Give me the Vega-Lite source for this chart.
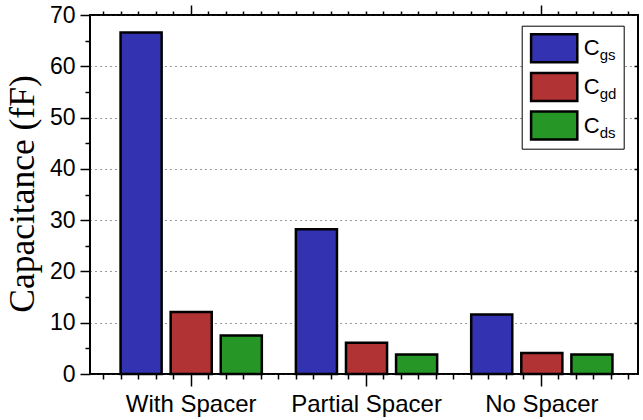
{
  "$schema": "https://vega.github.io/schema/vega-lite/v6.json",
  "width": 548,
  "height": 359,
  "autosize": {"type": "none"},
  "padding": {"left": 90, "top": 15, "right": 5, "bottom": 46},
  "background": "white",
  "config": {
    "view": {"stroke": "black", "strokeWidth": 2},
    "font": "Liberation Sans",
    "axis": {"tickColor": "black", "tickWidth": 1.5, "domain": false, "labelColor": "black", "grid": false}
  },
  "data": {
    "values": [
      {"group": "With Spacer", "series": "Cgs", "sub": "gs", "value": 66.6},
      {"group": "With Spacer", "series": "Cgd", "sub": "gd", "value": 12.1},
      {"group": "With Spacer", "series": "Cds", "sub": "ds", "value": 7.5},
      {"group": "Partial Spacer", "series": "Cgs", "sub": "gs", "value": 28.2},
      {"group": "Partial Spacer", "series": "Cgd", "sub": "gd", "value": 6.1},
      {"group": "Partial Spacer", "series": "Cds", "sub": "ds", "value": 3.8},
      {"group": "No Spacer", "series": "Cgs", "sub": "gs", "value": 11.6},
      {"group": "No Spacer", "series": "Cgd", "sub": "gd", "value": 4.1},
      {"group": "No Spacer", "series": "Cds", "sub": "ds", "value": 3.8}
    ]
  },
  "layer": [
    {
      "mark": {"type": "bar", "stroke": "black", "strokeWidth": 2.5},
      "encoding": {
        "x": {
          "field": "group", "type": "nominal",
          "sort": ["With Spacer", "Partial Spacer", "No Spacer"],
          "scale": {"paddingInner": 0, "paddingOuter": 0.0629, "align": 0.614},
          "axis": {"orient": "bottom", "title": null, "labelAngle": 0, "labelFontSize": 24, "labelPadding": 6, "tickSize": 12, "tickWidth": 1.5, "labelColor": "black", "grid": false, "domain": false}
        },
        "xOffset": {
          "field": "series", "type": "nominal",
          "sort": ["Cgs", "Cgd", "Cds"],
          "scale": {"paddingInner": 0.18, "paddingOuter": 0.34}
        },
        "y": {
          "field": "value", "type": "quantitative",
          "scale": {"domain": [0, 70], "nice": false},
          "axis": {
            "orient": "left", "values": [0, 10, 20, 30, 40, 50, 60, 70], "tickSize": 10, "labelFontSize": 23, "labelPadding": 5,
            "grid": true, "gridDash": [1, 4], "gridColor": "#333", "gridWidth": 1, "domain": false,
            "title": "Capacitance (fF)", "titleFont": "Liberation Serif", "titleFontSize": 35.5, "titleFontWeight": "normal",
            "titleX": -57, "titleY": 178.5, "titleAngle": 270, "titleAlign": "center", "titleBaseline": "alphabetic", "titleColor": "black"
          }
        },
        "fill": {
          "field": "series", "type": "nominal",
          "scale": {"domain": ["Cgs", "Cgd", "Cds"], "range": ["#3333b2", "#b23333", "#269626"]},
          "legend": {
            "orient": "none", "legendX": 431.7, "legendY": 10.7, "title": null, "zindex": 2,
            "symbolType": "M-1.65,-1H1.65V1H-1.65Z", "symbolSize": 784, "symbolOffset": 10,
            "symbolStrokeColor": "black", "symbolStrokeWidth": 2.5, "symbolOpacity": 1,
            "labelExpr": "'C'", "labelFontSize": 22, "labelColor": "black", "labelOffset": 14,
            "padding": 7, "rowPadding": -0.3
          }
        }
      }
    },
    {
      "mark": {"type": "point", "opacity": 0},
      "encoding": {
        "x": {
          "field": "value", "type": "quantitative",
          "scale": {"domain": [0.4229, 3.5543], "nice": false, "zero": false},
          "axis": {"orient": "bottom", "values": [0.5, 0.6, 0.7, 0.8, 0.9, 1.1, 1.2, 1.3, 1.4, 1.5, 1.6, 1.7, 1.8, 1.9, 2.1, 2.2, 2.3, 2.4, 2.5, 2.6, 2.7, 2.8, 2.9, 3.1, 3.2, 3.3, 3.4, 3.5], "tickSize": 5, "labels": false, "domain": false, "grid": false, "title": null}
        },
        "y": {
          "field": "value", "type": "quantitative",
          "axis": {"orient": "left", "values": [5, 15, 25, 35, 45, 55, 65], "tickSize": 5, "labels": false, "domain": false, "grid": false, "title": null}
        }
      }
    },
    {
      "mark": {"type": "point", "opacity": 0},
      "encoding": {
        "x": {
          "field": "value", "type": "quantitative",
          "scale": {"domain": [0.4229, 3.5543], "nice": false, "zero": false},
          "axis": {"orient": "top", "values": [0.5, 0.6, 0.7, 0.8, 0.9, 1.1, 1.2, 1.3, 1.4, 1.5, 1.6, 1.7, 1.8, 1.9, 2, 2.1, 2.2, 2.3, 2.4, 2.5, 2.6, 2.7, 2.8, 2.9, 3.1, 3.2, 3.3, 3.4, 3.5], "tickSize": 4, "labels": false, "domain": false, "grid": false, "title": null}
        },
        "y": {
          "field": "value", "type": "quantitative",
          "axis": {"orient": "right", "values": [10, 20, 30, 40, 50, 60], "tickSize": -4, "labels": false, "domain": false, "grid": false, "title": null}
        }
      }
    },
    {
      "mark": {"type": "point", "opacity": 0},
      "encoding": {
        "x": {
          "field": "value", "type": "quantitative",
          "scale": {"domain": [0.4229, 3.5543], "nice": false, "zero": false},
          "axis": {"orient": "top", "values": [1, 3], "tickSize": 10, "labels": false, "domain": false, "grid": false, "title": null}
        },
        "shape": {
          "field": "sub", "type": "nominal",
          "scale": {"domain": ["gs", "gd", "ds"], "range": ["M-1.65,-1H1.65V1H-1.65Z", "M-1.65,-1H1.65V1H-1.65Z", "M-1.65,-1H1.65V1H-1.65Z"]},
          "legend": {
            "orient": "none", "legendX": 431.7, "legendY": 10.7, "title": null, "zindex": 1,
            "symbolSize": 784, "symbolOffset": 10, "symbolOpacity": 0, "symbolStrokeWidth": 2.5, "symbolStrokeColor": "transparent", "symbolFillColor": "transparent",
            "labelFontSize": 15, "labelBaseline": "top", "labelColor": "black", "labelOffset": 30,
            "fillColor": "white", "strokeColor": "black", "padding": 7, "rowPadding": 7.8
          }
        }
      }
    }
  ],
  "resolve": {"scale": {"x": "independent"}, "axis": {"x": "independent", "y": "independent"}}
}
